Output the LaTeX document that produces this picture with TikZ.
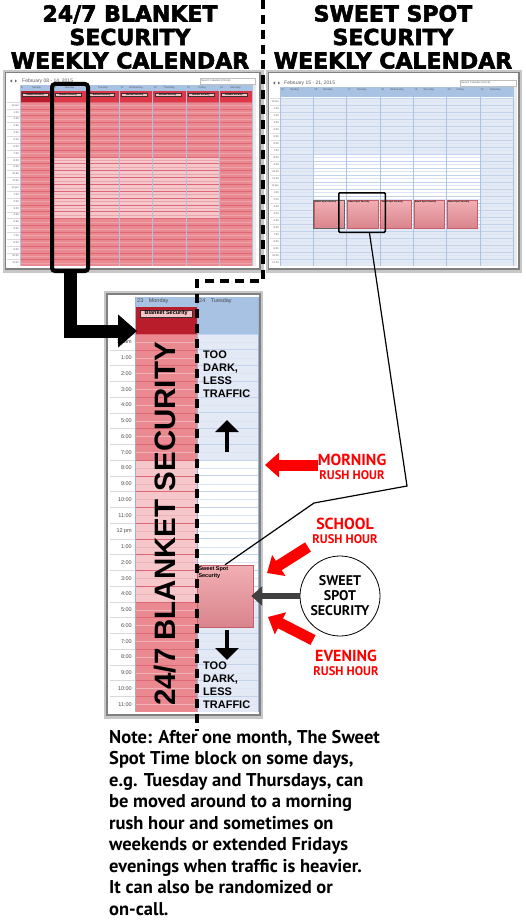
\documentclass[tikz,border=0pt]{standalone}
\usepackage{fontspec}
\setmainfont{Liberation Sans}
\newfontfamily\titlefont{DejaVu Sans}[BoldFeatures={FakeBold=2.5}]
\newfontfamily\notefont{PT Sans}
\usepackage{xcolor}
\usetikzlibrary{arrows.meta,positioning}

\definecolor{calpink}{HTML}{EA8990}
\definecolor{callight}{HTML}{F5C7CB}
\definecolor{calred}{HTML}{DC3848}
\definecolor{caldark}{HTML}{B91D2B}
\definecolor{calblue}{HTML}{E3EAF6}
\definecolor{calhead}{HTML}{A8C2E4}
\definecolor{blueline}{HTML}{C3D3EC}
\definecolor{pinkline}{HTML}{DD6774}
\definecolor{colsep}{HTML}{98B3DA}
\definecolor{spottop}{HTML}{F1AFB4}
\definecolor{spotbot}{HTML}{D9848C}
\definecolor{spotedge}{HTML}{C45E69}
\definecolor{tagpink}{HTML}{F6C3C7}
\definecolor{rushred}{HTML}{FF0000}
\definecolor{arrowgray}{HTML}{404040}

\newcommand\fsz[2]{\fontsize{#1}{#2}\selectfont}
\newcommand\hourlist{12 am,1:00,2:00,3:00,4:00,5:00,6:00,7:00,8:00,9:00,10:00,11:00,12 pm,1:00,2:00,3:00,4:00,5:00,6:00,7:00,8:00,9:00,10:00,11:00}

\begin{document}
\begin{tikzpicture}[x=1pt,y=-1pt,
  title/.style={font=\titlefont\bfseries\fsz{22}{23.5},align=center,inner sep=0pt},
  tiny/.style={font=\fsz{2.6}{3},text=black!65,inner sep=0pt},
  tag/.style={draw=black!80,fill=tagpink,font=\bfseries\fsz{2.2}{2.5},inner sep=0.5pt,anchor=west},
  zlabel/.style={font=\fsz{5.5}{6},text=black!70,inner sep=0pt},
  darktext/.style={font=\bfseries\fsz{11}{13},align=left,inner sep=0pt,anchor=north west},
  bigtext/.style={font=\bfseries\fsz{29.5}{30},rotate=90,inner sep=0pt},
  rush/.style={font=\notefont\bfseries\fsz{12.5}{14},text=rushred,align=center,inner sep=0pt},
  redarrow/.style={rushred,line width=11pt,-{Triangle[length=14pt,width=24pt]}},
  grayarrow/.style={arrowgray,line width=6pt,-{Triangle[length=11pt,width=19pt]}},
  blackarrow/.style={line width=4.5pt,-{Triangle[length=12pt,width=23pt]}},
  bigarrow/.style={line width=13pt,-{Triangle[length=19pt,width=32pt]}},
  divider/.style={line width=3.5pt,dash pattern=on 9pt off 6pt},
  selbox/.style={draw,rounded corners=3pt,line width=4pt,inner sep=0pt},
  spotbox/.style={draw=spotedge,top color=spottop,bottom color=spotbot,inner sep=0pt},
  spottag/.style={font=\bfseries\fsz{2.2}{2.5},inner sep=0pt,anchor=north west}]
\useasboundingbox (0,0) rectangle (525,920);
\fill[white] (0,0) rectangle (525,920);

\node[title] (lefttitle) at (130,37) {24/7 BLANKET\\SECURITY\\WEEKLY CALENDAR};
\node[title] (righttitle) at (393,37) {SWEET SPOT\\SECURITY\\WEEKLY CALENDAR};

\fill[black!22] (3,70) rectangle (264,273);
\fill[black!50] (5,72) rectangle (261,270);
\fill[white] (6,73) rectangle (259,268);
\fill[black!60] (10,81) -- (12,79.5) -- (12,82.5) -- cycle;
\fill[black!60] (15,79.5) -- (17,81) -- (15,82.5) -- cycle;
\node[tiny,font=\fsz{5}{6},anchor=west] (ldate) at (22,81) {February 08 - 14, 2015};
\draw[black!25,fill=white] (200,78) rectangle (255,84);
\node[tiny,anchor=west] (lsearch) at (201,81) {Search Calendar (Ctrl+E)};
\fill[calhead] (20,85) rectangle (252,91);
\fill[calred] (20,91) rectangle (252,102);
\fill[caldark] (20,91) rectangle (53.1,102);
\fill[calpink] (20,102) rectangle (252,266.4);
\fill[callight] (53.1,156.8) rectangle (218.9,218.5);
\fill[black!8] (252,85) rectangle (256,266.4);
\foreach \i in {0,...,23} {
  \draw[pinkline!60,line width=0.2pt] (20,105.4+6.85*\i) -- (252,105.4+6.85*\i);
  \draw[pinkline,line width=0.4pt] (20,102+6.85*\i) -- (252,102+6.85*\i);
  \draw[black!15,line width=0.2pt] (7,102+6.85*\i) -- (20,102+6.85*\i);
}
\foreach \k in {0,...,7} \draw[colsep!80,line width=0.3pt] (20+33.14*\k,85) -- (20+33.14*\k,266.4);
\foreach \d/\n [count=\k from 0] in {Sunday/8,Monday/9,Tuesday/10,Wednesday/11,Thursday/12,Friday/13,Saturday/14} {
  \node[tiny,anchor=west] (lnum\k) at (21+33.14*\k,88) {\n};
  \node[tiny] (lday\k) at (36.6+33.14*\k,88) {\d};
  \node[tag,minimum width=26pt] (ltag\k) at (22+33.14*\k,94.5) {Blanket Security};
}
\foreach \t [count=\i from 0] in \hourlist \node[tiny,anchor=east] (ltime\i) at (19,105.4+6.85*\i) {\t};
\node[selbox,minimum width=36pt,minimum height=187pt] (monsel) at (70,177.5) {};

\fill[black!22] (266,70) rectangle (522,273);
\fill[black!50] (268,72) rectangle (520,270);
\fill[white] (269,73) rectangle (518,268);
\fill[black!60] (273,83) -- (275,81.5) -- (275,84.5) -- cycle;
\fill[black!60] (278,81.5) -- (280,83) -- (278,84.5) -- cycle;
\node[tiny,font=\fsz{5}{6},anchor=west] (rdate) at (284,83) {February 15 - 21, 2015};
\draw[black!25,fill=white] (460,80) rectangle (516,86);
\node[tiny,anchor=west] (rsearch) at (461,83) {Search Calendar (Ctrl+E)};
\fill[calhead] (280,87) rectangle (513,97);
\fill[calblue] (280,98) rectangle (513,266);
\fill[white] (313.3,154) rectangle (479.7,227);
\fill[black!8] (513,87) rectangle (517,266);
\foreach \i in {0,...,23} {
  \draw[blueline!60,line width=0.2pt] (280,101.5+7*\i) -- (513,101.5+7*\i);
  \draw[blueline,line width=0.4pt] (280,98+7*\i) -- (513,98+7*\i);
  \draw[black!12,line width=0.2pt] (270,98+7*\i) -- (280,98+7*\i);
}
\foreach \k in {0,...,7} \draw[colsep!80,line width=0.3pt] (280+33.29*\k,87) -- (280+33.29*\k,266);
\foreach \d/\n [count=\k from 0] in {Sunday/15,Monday/16,Tuesday/17,Wednesday/18,Thursday/19,Friday/20,Saturday/21} {
  \node[tiny,anchor=west] (rnum\k) at (281+33.29*\k,89.5) {\n};
  \node[tiny,anchor=west] (rday\k) at (290+33.29*\k,89.5) {\d};
}
\foreach \t [count=\i from 0] in \hourlist \node[tiny,anchor=east] (rtime\i) at (279,101.5+7*\i) {\t};
\foreach \k in {1,...,5} {
  \node[spotbox,minimum width=30.5pt,minimum height=28pt,anchor=north west] (rspot\k) at (280.5+33.29*\k,200) {};
  \node[spottag] (rspottxt\k) at (281.5+33.29*\k,201) {Sweet Spot Security};
}
\draw[black!60,line width=0.8pt] (rspot1.north west) rectangle (rspot1.south east);
\node[draw,line width=1.5pt,rounded corners=1pt,minimum width=46.5pt,minimum height=39.5pt,inner sep=0pt] (tuesel) at (362,212.5) {};

\fill[black!22] (104,291) rectangle (263,719);
\fill[black!50] (106,293) rectangle (261,716);
\fill[white] (108,295) rectangle (259,714);
\fill[calhead] (135,297) rectangle (258,334);
\fill[caldark] (135,307) rectangle (197,334);
\fill[calpink] (135,334) rectangle (197,712);
\fill[callight] (135,460) rectangle (197,601.75);
\fill[calblue] (197,334) rectangle (258,712);
\fill[white] (197,460) rectangle (258,601.75);
\foreach \i in {0,...,23} {
  \draw[pinkline!50,line width=0.3pt] (135,341.9+15.75*\i) -- (197,341.9+15.75*\i);
  \draw[blueline!60,line width=0.3pt] (197,341.9+15.75*\i) -- (258,341.9+15.75*\i);
  \draw[pinkline,line width=0.5pt] (135,334+15.75*\i) -- (197,334+15.75*\i);
  \draw[blueline,line width=0.6pt] (197,334+15.75*\i) -- (258,334+15.75*\i);
  \draw[black!15,line width=0.4pt] (110,334+15.75*\i) -- (135,334+15.75*\i);
}
\foreach \t [count=\i from 0] in \hourlist \node[zlabel,anchor=east] (ztime\i) at (132,341.9+15.75*\i) {\t};
\draw[colsep,line width=0.6pt] (135,297) -- (135,712) (197,297) -- (197,712) (258,297) -- (258,712);
\node[zlabel,anchor=west] (zmonday) at (137,301.5) {23\quad Monday};
\node[zlabel,anchor=west] (ztuesday) at (199,301.5) {24\quad Tuesday};
\node[tag,font=\bfseries\fsz{5.5}{6},minimum width=52pt,inner sep=0.8pt] (ztag) at (140,313.5) {Blanket Security};

\node[bigtext] (blanket) at (165,524) {24/7 BLANKET SECURITY};
\node[darktext] (darkup) at (203,351) {TOO\\DARK,\\LESS\\TRAFFIC};
\node[darktext] (darkdown) at (203,662) {TOO\\DARK,\\LESS\\TRAFFIC};
\coordinate (uptail) at (227,452);
\coordinate (uphead) at (227,420);
\draw[blackarrow] (uptail) -- (uphead);
\node[spotbox,minimum width=56pt,minimum height=62pt] (spot) at (225,596) {};
\node[spottag,font=\bfseries\fsz{5.5}{7},align=left,inner sep=1.5pt] (spottext) at (spot.north west) {Sweet Spot\\Security};
\coordinate (downhead) at (227,660);
\draw[blackarrow] (spot.south) ++(2,3) coordinate (downtail) -- (downhead);

\draw[bigarrow] (monsel.south) |- (137,331) coordinate (zoomin);
\draw[line width=1.2pt] (tuesel.-70) -- (407,486) -- (314,503) -- (spot.north);

\node[rush] (morning) at (352,467) {{\fsz{16}{17}MORNING}\\RUSH HOUR};
\node[rush] (school) at (345,531) {{\fsz{16}{17}SCHOOL}\\RUSH HOUR};
\node[rush] (evening) at (346,663) {{\fsz{16}{17}EVENING}\\RUSH HOUR};
\coordinate (morningtip) at (265,465);
\coordinate (schooltail) at (308,547);
\coordinate (schooltip) at (267,573);
\coordinate (eveningtail) at (313,640);
\coordinate (eveningtip) at (268,617);
\draw[redarrow] (morning.west |- morningtip) -- (morningtip);
\draw[redarrow] (schooltail) -- (schooltip);
\draw[redarrow] (eveningtail) -- (eveningtip);

\node[circle,draw,line width=0.8pt,minimum size=80pt,inner sep=0pt,font=\notefont\bfseries\fsz{14}{15},align=center] (sweet) at (340,596) {SWEET\\SPOT\\SECURITY};
\draw[grayarrow,shorten >=-2pt] (sweet.west) -- (spot.east);

\draw[divider] (263,0) -- (263,281) -- (197,281) -- (197,731);

\node[font=\notefont\bfseries\fsz{18.5}{21.5},align=left,anchor=north west,inner sep=0pt] (note) at (109,730) {Note: After one month, The Sweet\\Spot Time block on some days,\\e.g. Tuesday and Thursdays, can\\be moved around to a morning\\rush hour and sometimes on\\weekends or extended Fridays\\evenings when traffic is heavier.\\It can also be randomized or\\on-call.};
\end{tikzpicture}
\end{document}
